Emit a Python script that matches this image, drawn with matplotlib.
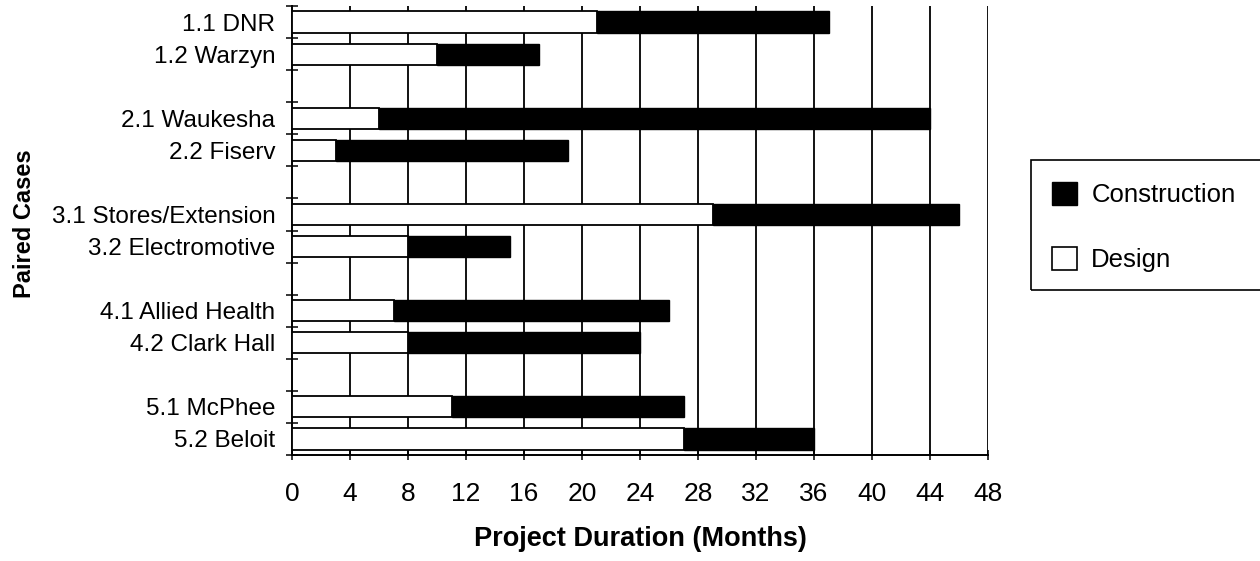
import matplotlib
matplotlib.use("Agg")
import matplotlib.pyplot as plt
from matplotlib.patches import Patch, Rectangle
import numpy as np

plt.rcParams['font.family'] = ['Liberation Sans', 'DejaVu Sans']

# Paired case studies, top to bottom
cases = ['1.1 DNR', '1.2 Warzyn',
         '2.1 Waukesha', '2.2 Fiserv',
         '3.1 Stores/Extension', '3.2 Electromotive',
         '4.1 Allied Health', '4.2 Clark Hall',
         '5.1 McPhee', '5.2 Beloit']
# Phase durations in months
design = [21, 10, 6, 3, 29, 8, 7, 8, 11, 27]
construction = [16, 7, 38, 16, 17, 7, 19, 16, 16, 9]
x_ticks = [0, 4, 8, 12, 16, 20, 24, 28, 32, 36, 40, 44, 48]

# each pair takes two rows, followed by an empty spacer row
rows = np.array([(i // 2) * 3 + (i % 2) for i in range(len(cases))])
n_slots = rows.max() + 1

fig = plt.figure(figsize=(12.6, 5.61), dpi=100)
ax = fig.add_axes([292 / 1260, 1 - 455 / 561, 696 / 1260, 449 / 561])

bar_h = 0.66
ax.barh(rows, design, height=bar_h, color='white', edgecolor='black',
        linewidth=1.3, zorder=3, label='Design')
ax.barh(rows, construction, left=design, height=bar_h, color='black',
        edgecolor='black', linewidth=1.0, zorder=3, label='Construction')

ax.set_xlim(0, 48)
ax.set_ylim(n_slots - 0.5, -0.5)

# vertical gridlines every 4 months
for xv in x_ticks[1:]:
    ax.axvline(xv, color='black', linewidth=1.3, zorder=1)

ax.set_xticks(x_ticks)
ax.set_xticklabels([str(v) for v in x_ticks], fontsize=19)
ax.tick_params(axis='x', direction='inout', length=7, width=1.1, pad=16)

ax.set_yticks(rows)
ax.set_yticklabels(cases, fontsize=17.5)
ax.set_yticks(np.arange(-0.5, n_slots, 1.0), minor=True)
ax.tick_params(axis='y', which='major', length=0, pad=12)
ax.tick_params(axis='y', which='minor', direction='inout', length=9, width=1.1)

for side in ('top', 'right'):
    ax.spines[side].set_visible(False)
for side in ('left', 'bottom'):
    ax.spines[side].set_linewidth(1.4)

ax.set_xlabel('Project Duration (Months)', fontsize=19.5, fontweight='bold',
              labelpad=14)
fig.text(25 / 1260, 1 - 224 / 561, 'Paired Cases', rotation=90,
         fontsize=17, fontweight='bold', ha='center', va='center')

# legend box running off the right edge
fig.patches.append(Rectangle((1031 / 1260, 1 - 290 / 561), 0.3, 130 / 561,
                             transform=fig.transFigure, fill=False,
                             edgecolor='black', linewidth=1.2))
handles = [Patch(facecolor='black', edgecolor='black', label='Construction'),
           Patch(facecolor='white', edgecolor='black', linewidth=1.2,
                 label='Design')]
fig.legend(handles=handles, loc='upper left',
           bbox_to_anchor=(1052 / 1260, 1 - 182 / 561),
           frameon=False, fontsize=18.5, handlelength=0.98, handleheight=0.98,
           handletextpad=0.55, labelspacing=1.55, borderpad=0,
           borderaxespad=0)

fig.savefig('out.png', dpi=100)
